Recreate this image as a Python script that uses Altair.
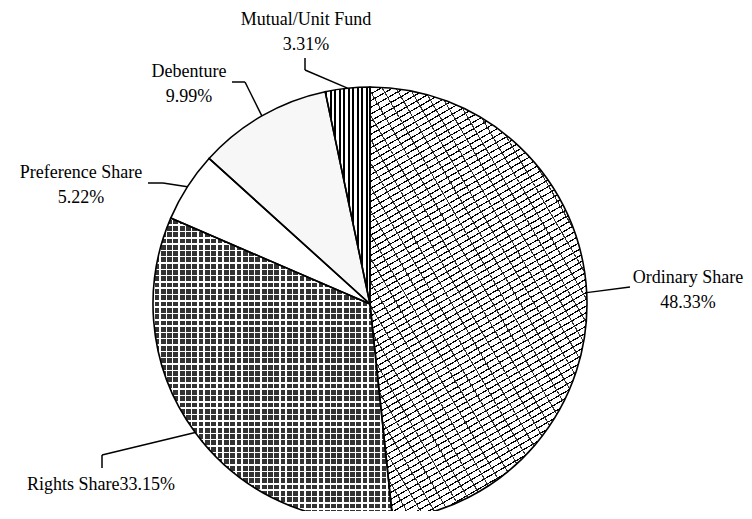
import altair as alt
import pandas as pd

# ---- data ----
categories = ["Ordinary Share", "Rights Share", "Preference Share", "Debenture", "Mutual/Unit Fund"]
values = [48.33, 33.15, 5.22, 9.99, 3.31]

# ---- label layout (chart pixel coordinates) ----
label_x = [680, 93, 73, 181, 298]
label_y = [275, 482, 170, 69, 17]
label_sep = ["\n", "", "\n", "\n", "\n"]
elbow_x = [622, 94, 155, 237, 297]
elbow_y = [279, 447, 175, 74, 62]
end_x = [622, 94, 140, 224, 297]
end_y = [279, 460, 175, 74, 50]

W, H = 736, 503
CX, CY, R = 362, 296, 217

df = pd.DataFrame({
    "cat": categories, "value": values, "order": list(range(len(categories))),
    "lx": label_x, "ly": label_y, "sep": label_sep,
    "bx": elbow_x, "by": elbow_y, "tx": end_x, "ty": end_y,
})


def stripes(n, frac, ink, gap, x1, y1, x2, y2):
    stops = []
    for i in range(n):
        a = round(i / n, 6)
        b = round((i + frac) / n, 6)
        c = round((i + 1) / n, 6)
        stops += [{"offset": a, "color": ink}, {"offset": b, "color": ink},
                  {"offset": b, "color": gap}, {"offset": c, "color": gap}]
    return {"gradient": "linear", "x1": x1, "y1": y1, "x2": x2, "y2": y2, "stops": stops}


CLEAR = "rgba(255,255,255,0)"
CLEAR_K = "rgba(0,0,0,0)"

xs = alt.Scale(domain=[0, W], range=[0, W], nice=False, zero=False)
ys = alt.Scale(domain=[0, H], range=[0, H], nice=False, zero=False)

base = alt.Chart(df).transform_window(
    cum="sum(value)", sort=[alt.SortField("order")], frame=[None, 0]
).transform_calculate(start="datum.cum - datum.value")

theta_enc = dict(
    theta=alt.Theta("start:Q", scale=alt.Scale(domain=[0, 100])),
    theta2="cum:Q",
    x=alt.value(CX),
    y=alt.value(CY),
)


def slice_layer(cat, fill):
    return base.transform_filter(alt.datum.cat == cat).mark_arc(
        outerRadius=R, fill=fill, strokeWidth=0
    ).encode(**theta_enc)


layers = [
    slice_layer("Ordinary Share", stripes(83, 0.2, "#000000", "#ffffff", 0, 0, 0.344, 1.19)),
    slice_layer("Ordinary Share", stripes(34, 0.09, "#333333", CLEAR_K, 0, 1, 0.925, -0.065)),
    slice_layer("Rights Share", "#333333"),
    slice_layer("Rights Share", stripes(38, 0.24, "#ffffff", CLEAR, 0, 0, 1, 0)),
    slice_layer("Rights Share", stripes(48, 0.24, "#ffffff", CLEAR, 0, 0, 0, 1)),
    slice_layer("Preference Share", "#ffffff"),
    slice_layer("Debenture", "#f7f7f7"),
    slice_layer("Mutual/Unit Fund", stripes(10, 0.45, "#000000", "#ffffff", 0, 0, 1, 0)),
]

outline = base.mark_arc(
    outerRadius=R, fillOpacity=0, stroke="black", strokeWidth=1.6
).encode(**theta_enc)

geo = base.transform_calculate(
    mid="(datum.cum - datum.value / 2) / 100 * 2 * PI"
).transform_calculate(
    ex=f"{CX} + {R} * sin(datum.mid)"
).transform_calculate(
    ey=f"{CY} - {R} * cos(datum.mid)"
)

rule1 = geo.mark_rule(color="black", strokeWidth=1.5).encode(
    x=alt.X("ex:Q", scale=xs, axis=None),
    y=alt.Y("ey:Q", scale=ys, axis=None),
    x2="bx:Q",
    y2="by:Q",
)
rule2 = base.mark_rule(color="black", strokeWidth=1.5).encode(
    x=alt.X("bx:Q", scale=xs, axis=None),
    y=alt.Y("by:Q", scale=ys, axis=None),
    x2="tx:Q",
    y2="ty:Q",
)

text = base.transform_calculate(
    label="datum.cat + datum.sep + format(datum.value, '.2f') + '%'"
).mark_text(
    font="Liberation Serif", fontSize=18, lineBreak="\n", lineHeight=24.5,
    align="center", baseline="alphabetic", color="black"
).encode(
    x=alt.X("lx:Q", scale=xs, axis=None),
    y=alt.Y("ly:Q", scale=ys, axis=None),
    text="label:N",
)

chart = alt.layer(*layers, outline, rule1, rule2, text).properties(
    width=W, height=H, autosize=alt.AutoSizeParams(type="none"), padding=0
).configure_view(strokeWidth=0)

chart.save("out.html", embed_options={"renderer": "svg", "actions": False})
